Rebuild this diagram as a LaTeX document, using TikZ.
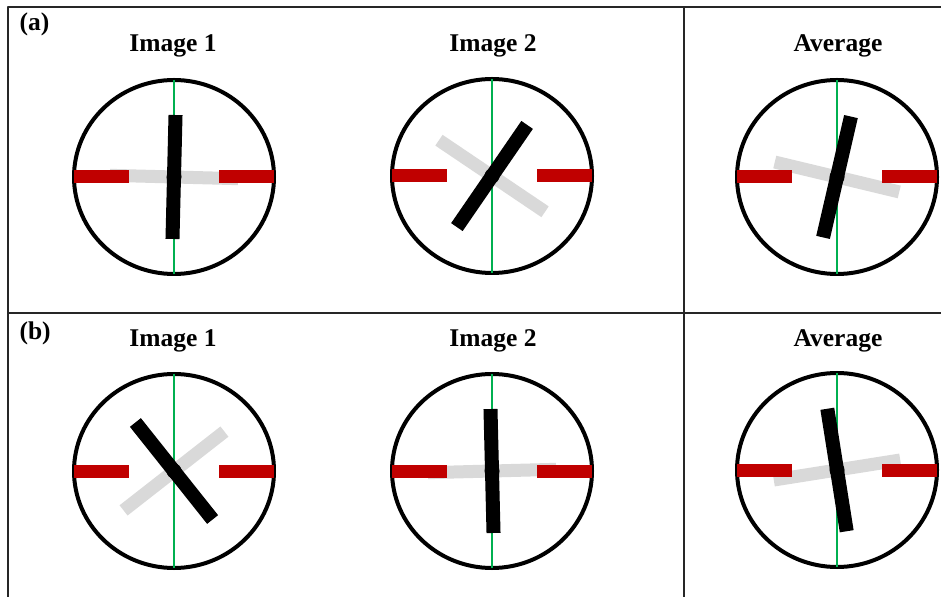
\documentclass[tikz,border=0pt]{standalone}
\usepackage{fontspec}
\setmainfont{Liberation Serif}
\definecolor{barred}{RGB}{192,0,0}
\definecolor{bargray}{RGB}{217,217,217}
\definecolor{axisgreen}{RGB}{0,176,80}
\begin{document}
\begin{tikzpicture}[x=1pt, y=1pt, line join=round,
  frame/.style={line width=1.6pt, black!85},
  dial/.style={line width=4pt},
  redbar/.style={line width=13pt, barred},
  graybar/.style={line width=13pt, bargray},
  blackbar/.style={line width=14pt},
  axis/.style={line width=1.4pt, axisgreen},
  title/.style={font=\fontsize{25.5}{30}\selectfont\bfseries, anchor=base}]
	\useasboundingbox (0,0) rectangle (941,597);
	% table frame
	\draw[frame] (941,590) -- (8,590) -- (8,0);
	\draw[frame] (8,284) -- (941,284);
	\draw[frame] (684,590) -- (684,0);
	\node[title, anchor=base west] (laba) at (16,566) {(a)};
	\node[title, anchor=base west] (labb) at (16,257) {(b)};
	\foreach \y/\r in {545/a, 250/b}{
		\node[title] (img1\r) at (173,\y) {Image 1};
		\node[title] (img2\r) at (493,\y) {Image 2};
		\node[title] (avg\r) at (838,\y) {Average};
	}
	% dials: centre / black angle / grey angle
	\foreach \cx/\cy/\b/\g in {174/420/88.6/-1.5, 492/421/55.5/-34, 837/420/77/-13.5,
		174/126/128.5/38, 492/126/91.4/1.5, 837/127/99/9}{
		\coordinate (c) at (\cx,\cy);
		\draw[dial] (c) ellipse [x radius=100, y radius=97];
		\draw[graybar] (c) ++(\g:64) -- ++(\g+180:128);
		\draw[axis] (c) ++(0,97) -- ++(0,-194);
		\draw[redbar] (c) ++(-100,0) -- ++(55,0);
		\draw[redbar] (c) ++(45,0) -- ++(55,0);
		\draw[blackbar] (c) ++(\b:62) -- ++(\b+180:124);
		\fill (c) circle (7.5);
	}
\end{tikzpicture}
\end{document}
